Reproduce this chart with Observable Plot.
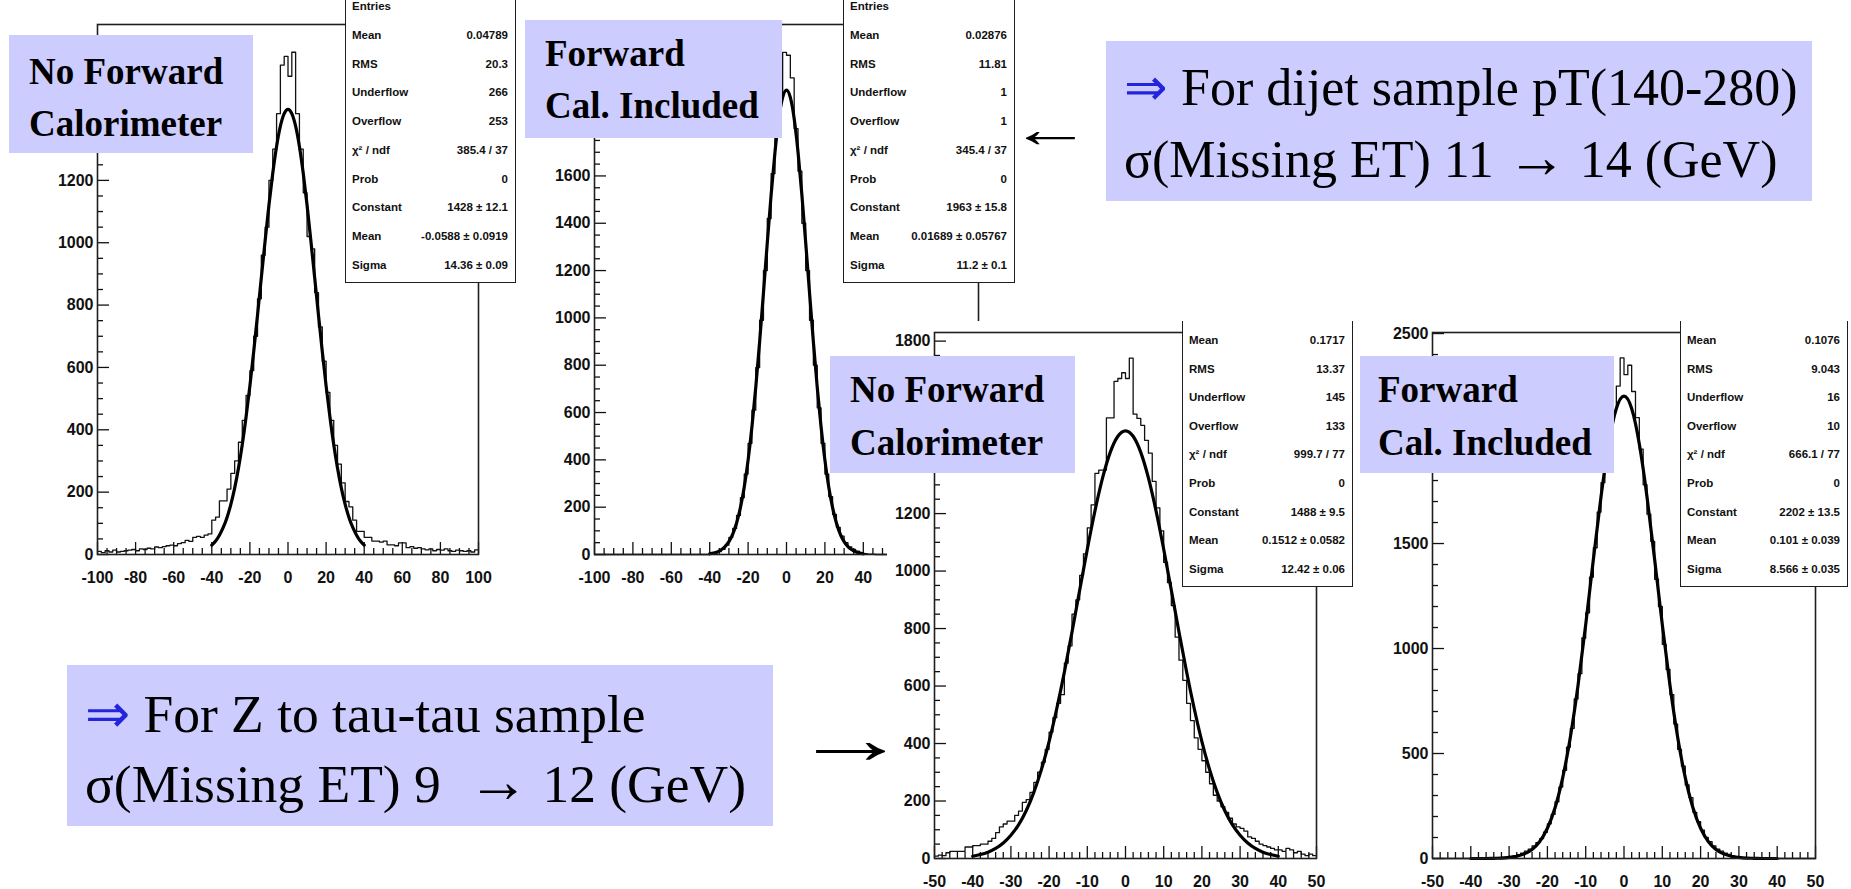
<!DOCTYPE html>
<html>
<head>
<meta charset="utf-8">
<script src="https://cdn.jsdelivr.net/npm/d3@7"></script>
<script src="https://cdn.jsdelivr.net/npm/@observablehq/plot@0.6"></script>
<style>
  html, body { margin:0; padding:0; background:#fff; }
  #page { position:relative; width:1851px; height:889px; overflow:hidden; background:#fff; }
  .panel { position:absolute; }
  .stats { position:absolute; background:#fff; border:1.5px solid #1e1e1e; box-sizing:border-box;
           font-family:"Liberation Sans", Arial, sans-serif; font-weight:bold; font-size:11.5px; color:#111; }
  .stats .row { position:absolute; left:6px; right:7px; height:14px; line-height:14px;
                display:flex; justify-content:space-between; white-space:nowrap; }
  .note { position:absolute; background:#ccccff; font-family:"Liberation Serif","Times New Roman",serif;
          font-weight:bold; font-size:37px; color:#000; }
  .note div, .big div { position:absolute; white-space:pre; }
  .note div { line-height:37px; }
  .big { position:absolute; background:#ccccff; font-family:"Liberation Serif","Times New Roman",serif;
         font-size:52px; color:#000; }
  .big div { line-height:52px; }
  .imp { color:#2424dc; }
  .sym { font-size:1.15em; line-height:0; }
  .arrow { position:absolute; font-family:"Liberation Serif","Times New Roman",serif; color:#000;
           line-height:1; white-space:pre; letter-spacing:-0.3em; }
</style>
</head>
<body>
<div id="page"></div>
<script>
// ---------------- data ----------------
// Histogram bin contents (100 bins each)
const p1Counts = [
  10,6,12,8,14,8,10,12,14,16,
  12,18,16,20,18,24,22,25,28,30,
  28,35,38,45,42,55,58,55,62,66,
  110,120,172,172,210,260,300,360,430,510,
  590,700,820,960,1050,1200,1300,1414,1570,1598,
  1534,1611,1414,1300,1160,1020,980,840,730,620,
  520,430,350,290,230,170,153,110,74,74,
  55,55,43,43,40,43,31,31,28,37,
  37,22,25,20,22,18,15,18,12,16,
  14,18,12,10,14,12,10,12,8,15
];
const p2Counts = [
  0,0,0,0,0,0,0,0,0,0,
  0,0,0,0,0,0,0,0,0,0,
  0,0,0,0,0,0,0,0,0,0,
  3,6,12,22,40,72,110,165,240,340,
  470,610,790,990,1200,1420,1610,1790,1940,2122,
  2110,2014,1800,1620,1400,1200,990,800,620,470,
  340,245,170,115,78,50,32,22,14,8,
  4,2,1,0,0,0,0,0,0,0,
  0,0,0,0,0,0,0,0,0,0,
  0,0,0,0,0,0,0,0,0,0
];
const p3Counts = [
  8,12,10,20,25,25,25,25,40,40,
  45,45,50,50,60,70,90,110,120,130,
  130,150,165,195,205,230,265,300,335,380,
  440,490,540,570,680,740,850,900,985,1060,
  1150,1230,1340,1351,1351,1533,1533,1660,1670,1690,
  1670,1741,1546,1531,1507,1455,1410,1312,1220,1140,
  1030,960,880,770,690,620,540,480,420,380,
  340,300,260,220,200,180,160,140,120,110,
  105,95,75,70,60,50,45,40,35,30,
  30,25,35,30,20,25,15,10,15,10
];
const p4Counts = [
  0,0,0,0,0,0,0,0,0,0,
  1,0,2,1,2,3,2,4,5,6,
  10,14,18,25,35,45,60,75,95,125,
  165,210,270,340,420,530,620,760,880,1050,
  1170,1340,1480,1650,1790,1900,2030,2130,2250,2384,
  2304,2349,2224,2100,1950,1780,1640,1510,1330,1200,
  1020,900,780,640,520,440,350,290,220,175,
  135,100,80,60,45,35,25,20,12,8,
  5,3,2,2,1,1,0,1,0,0,
  0,0,0,0,0,0,0,0,0,0
];

const fitX = [-40,-38,-36,-34,-32,-30,-28,-26,-24,-22,-20,-18,-16,-14,-12,-10,-8,-6,-4,-2,0,
              2,4,6,8,10,12,14,16,18,20,22,24,26,28,30,32,34,36,38,40];
const p1Fit = [30,43,62,87,119,161,213,277,353,442,541,651,768,888,1007,1121,1223,1309,1374,1414,1428,
               1414,1374,1309,1223,1121,1007,888,768,651,541,442,353,277,213,161,119,87,62,43,30];
const p2Fit = [3,6,11,20,33,54,86,133,198,285,399,540,707,899,1106,1318,1521,1701,1842,1932,1963,
               1932,1842,1701,1521,1318,1106,899,707,540,399,285,198,133,86,54,33,20,11,6,3];
const p3Fit = [8,14,22,35,54,81,117,166,230,310,407,521,649,788,933,1076,1209,1324,1413,1469,1488,
               1469,1413,1324,1209,1076,933,788,649,521,407,310,230,166,117,81,54,35,22,14,8];
const p4Fit = [0,0,0,1,2,5,11,22,43,81,144,242,385,579,825,1114,1424,1723,1974,2143,2202,
               2143,1974,1723,1424,1114,825,579,385,242,144,81,43,22,11,5,2,1,0,0,0];

// Major tick values
const wideXTicks = [-100,-80,-60,-40,-20,0,20,40,60,80,100];
const narrowXTicks = [-50,-40,-30,-20,-10,0,10,20,30,40,50];
const p1YTicks = [0,200,400,600,800,1000,1200,1400,1600];
const p2YTicks = [0,200,400,600,800,1000,1200,1400,1600,1800,2000,2200];
const p3YTicks = [0,200,400,600,800,1000,1200,1400,1600,1800];
const p4YTicks = [0,500,1000,1500,2000,2500];
// Tick labels that are visible (the others are covered by the label boxes / next picture)
const p1XLabels = [-100,-80,-60,-40,-20,0,20,40,60,80,100];
const p2XLabels = [-100,-80,-60,-40,-20,0,20,40];
const p1YLabels = [0,200,400,600,800,1000,1200];
const p2YLabels = [0,200,400,600,800,1000,1200,1400,1600];
const p3YLabels = [0,200,400,600,800,1000,1200,1800];
const p4YLabels = [0,500,1000,1500,2500];

// Statistics boxes
const p1Stats = [["Entries",""],["Mean","0.04789"],["RMS","20.3"],["Underflow","266"],["Overflow","253"],
  ["χ\u00b2 / ndf","385.4 / 37"],["Prob","0"],["Constant","1428 \u00b1 12.1"],["Mean","-0.0588 \u00b1 0.0919"],["Sigma","14.36 \u00b1 0.09"]];
const p2Stats = [["Entries",""],["Mean","0.02876"],["RMS","11.81"],["Underflow","1"],["Overflow","1"],
  ["χ\u00b2 / ndf","345.4 / 37"],["Prob","0"],["Constant","1963 \u00b1 15.8"],["Mean","0.01689 \u00b1 0.05767"],["Sigma","11.2 \u00b1 0.1"]];
const p3Stats = [["Mean","0.1717"],["RMS","13.37"],["Underflow","145"],["Overflow","133"],
  ["χ\u00b2 / ndf","999.7 / 77"],["Prob","0"],["Constant","1488 \u00b1 9.5"],["Mean","0.1512 \u00b1 0.0582"],["Sigma","12.42 \u00b1 0.06"]];
const p4Stats = [["Mean","0.1076"],["RMS","9.043"],["Underflow","16"],["Overflow","10"],
  ["χ\u00b2 / ndf","666.1 / 77"],["Prob","0"],["Constant","2202 \u00b1 13.5"],["Mean","0.101 \u00b1 0.039"],["Sigma","8.566 \u00b1 0.035"]];

// Annotation texts
const noteNoFwd = ["No Forward", "Calorimeter"];
const noteFwd = ["Forward", "Cal. Included"];
const dijetText = ["For dijet sample pT(140-280)", "σ(Missing ET) 11 \u2192 14 (GeV)"];
const ztautauText = ["For Z to tau-tau sample", "σ(Missing ET) 9  \u2192 12 (GeV)"];

// ---------------- layout ----------------
const page = document.getElementById("page");

const panels = [
  {counts: p1Counts, start: -100, bin: 2, fit: p1Fit, xDomain: [-100,100], yDomain: [0,1700],
   xTicks: wideXTicks, xLabels: p1XLabels, xMinor: 5, yTicks: p1YTicks, yLabels: p1YLabels, yMinor: 50,
   frame: {l:97, t:24, r:478, b:554}, m: {l:60, t:10, r:10, b:40}},
  {counts: p2Counts, start: -100, bin: 2, fit: p2Fit, xDomain: [-100,100], yDomain: [0,2240],
   xTicks: wideXTicks, xLabels: p2XLabels, xMinor: 5, yTicks: p2YTicks, yLabels: p2YLabels, yMinor: 50,
   frame: {l:594, t:24, r:978, b:554}, m: {l:60, t:10, r:10, b:40}},
  {counts: p3Counts, start: -50, bin: 1, fit: p3Fit, xDomain: [-50,50], yDomain: [0,1830],
   xTicks: narrowXTicks, xLabels: narrowXTicks, xMinor: 2, yTicks: p3YTicks, yLabels: p3YLabels, yMinor: 50,
   frame: {l:934, t:332, r:1316, b:858}, m: {l:47, t:11, r:10, b:31}},
  {counts: p4Counts, start: -50, bin: 1, fit: p4Fit, xDomain: [-50,50], yDomain: [0,2505],
   xTicks: narrowXTicks, xLabels: narrowXTicks, xMinor: 2, yTicks: p4YTicks, yLabels: p4YLabels, yMinor: 100,
   frame: {l:1432, t:332, r:1815, b:858}, m: {l:50, t:11, r:20, b:31}}
];
const statsBoxes = [
  {rows: p1Stats, left: 345, right: 516, top: -10, bottom: 283, first: 6.8, step: 28.7, noTop: false},
  {rows: p2Stats, left: 843, right: 1015, top: -10, bottom: 283, first: 6.8, step: 28.7, noTop: false},
  {rows: p3Stats, left: 1182, right: 1353, top: 321, bottom: 587, first: 340, step: 28.6, noTop: true},
  {rows: p4Stats, left: 1680, right: 1848, top: 321, bottom: 587, first: 340, step: 28.6, noTop: true}
];

function makePanel(p) {
  const fw = p.frame.r - p.frame.l, fh = p.frame.b - p.frame.t;
  const ux = (p.xDomain[1] - p.xDomain[0]) / fw;
  const uy = (p.yDomain[1] - p.yDomain[0]) / fh;
  const histPts = p.counts.map((c, i) => ({x: p.start + i * p.bin, y: c}));
  histPts.push({x: p.start + p.counts.length * p.bin, y: p.counts[p.counts.length - 1]});
  const fitPts = fitX.map((x, i) => ({x, y: p.fit[i]}));
  const xMinorTicks = d3.range(p.xDomain[0], p.xDomain[1] + 1e-9, p.xMinor).filter(v => !p.xTicks.includes(v));
  const yMinorTicks = d3.range(p.yDomain[0], p.yDomain[1], p.yMinor).filter(v => !p.yTicks.includes(v));
  const x0 = p.xDomain[0], y0 = p.yDomain[0];
  const svg = Plot.plot({
    width: p.m.l + fw + p.m.r,
    height: p.m.t + fh + p.m.b,
    marginLeft: p.m.l, marginRight: p.m.r, marginTop: p.m.t, marginBottom: p.m.b,
    x: {domain: p.xDomain, label: null},
    y: {domain: p.yDomain, label: null},
    style: {fontFamily: "'Liberation Sans', Arial, sans-serif", fontSize: "16px", fontWeight: "bold",
            background: "#fff", maxWidth: "none", overflow: "visible", color: "#111"},
    marks: [
      Plot.axisX({ticks: p.xLabels, tickSize: 0, tickPadding: 17, tickFormat: d => String(d), label: null, fontSize: 16}),
      Plot.axisY({ticks: p.yLabels, tickSize: 0, tickPadding: 4, tickFormat: d => String(d), label: null, fontSize: 16}),
      Plot.ruleX(p.xTicks, {x: d => d, y1: () => y0, y2: () => y0 + 12 * uy, stroke: "#111", strokeWidth: 1.3}),
      Plot.ruleX(xMinorTicks, {x: d => d, y1: () => y0, y2: () => y0 + 6 * uy, stroke: "#111", strokeWidth: 1.3}),
      Plot.ruleY(p.yTicks, {y: d => d, x1: () => x0, x2: () => x0 + 12 * ux, stroke: "#111", strokeWidth: 1.3}),
      Plot.ruleY(yMinorTicks, {y: d => d, x1: () => x0, x2: () => x0 + 6 * ux, stroke: "#111", strokeWidth: 1.3}),
      Plot.line(histPts, {x: "x", y: "y", curve: "step-after", stroke: "#111", strokeWidth: 1.3}),
      Plot.line(fitPts, {x: "x", y: "y", curve: "natural", stroke: "#000", strokeWidth: 3.2}),
      Plot.frame({stroke: "#1e1e1e", strokeWidth: 1.6})
    ]
  });
  const wrap = document.createElement("div");
  wrap.className = "panel";
  wrap.style.left = (p.frame.l - p.m.l) + "px";
  wrap.style.top = (p.frame.t - p.m.t) + "px";
  wrap.appendChild(svg);
  page.appendChild(wrap);
}

function makeStats(s) {
  const box = document.createElement("div");
  box.className = "stats";
  Object.assign(box.style, {left: s.left + "px", top: s.top + "px",
    width: (s.right - s.left) + "px", height: (s.bottom - s.top) + "px"});
  if (s.noTop) box.style.borderTop = "none";
  s.rows.forEach(([label, value], i) => {
    const row = document.createElement("div");
    row.className = "row";
    row.style.top = (s.first + i * s.step - 7 - s.top - (s.noTop ? 0 : 1.5)) + "px";
    const a = document.createElement("span"); a.textContent = label;
    const b = document.createElement("span"); b.textContent = value;
    row.appendChild(a); row.appendChild(b);
    box.appendChild(row);
  });
  page.appendChild(box);
}

function makeNote(lines, left, top, width, height, padLeft, lineTops) {
  const box = document.createElement("div");
  box.className = "note";
  Object.assign(box.style, {left: left + "px", top: top + "px", width: width + "px", height: height + "px"});
  lines.forEach((t, i) => {
    const d = document.createElement("div");
    d.textContent = t;
    d.style.left = padLeft + "px";
    d.style.top = lineTops[i] + "px";
    box.appendChild(d);
  });
  page.appendChild(box);
}

function appendWithArrows(el, text) {
  const parts = text.split("\u2192");
  parts.forEach((part, k) => {
    if (k > 0) {
      const s = document.createElement("span");
      s.className = "sym";
      s.textContent = "\u2192";
      el.appendChild(s);
    }
    el.appendChild(document.createTextNode(part));
  });
}

function makeBig(lines, left, top, width, height, padLeft, lineTops, fontSize) {
  const box = document.createElement("div");
  box.className = "big";
  Object.assign(box.style, {left: left + "px", top: top + "px", width: width + "px", height: height + "px",
    fontSize: fontSize + "px"});
  lines.forEach((t, i) => {
    const d = document.createElement("div");
    d.style.left = padLeft + "px";
    d.style.top = lineTops[i] + "px";
    if (i === 0) {
      const s = document.createElement("span");
      s.className = "imp";
      s.textContent = "\u21d2";
      d.appendChild(s);
      d.appendChild(document.createTextNode(" " + t));
    } else {
      appendWithArrows(d, t);
    }
    box.appendChild(d);
  });
  page.appendChild(box);
}

function makeArrow(ch, left, top, size, sx, oy) {
  const d = document.createElement("div");
  d.className = "arrow";
  d.textContent = ch;
  Object.assign(d.style, {left: left + "px", top: top + "px", fontSize: size + "px",
    transform: `scale(${sx}, 1.15)`, transformOrigin: `0 ${oy}px`});
  page.appendChild(d);
}

// draw order: earlier pictures underneath later ones
makePanel(panels[0]); makeStats(statsBoxes[0]);
makePanel(panels[1]); makeStats(statsBoxes[1]);
makePanel(panels[2]); makeStats(statsBoxes[2]);
makePanel(panels[3]); makeStats(statsBoxes[3]);

makeNote(noteNoFwd, 9, 35, 244, 118, 20, [18, 70]);
makeNote(noteFwd, 525, 20, 257, 118, 20, [15, 67]);
makeNote(noteNoFwd, 830, 356, 245, 117, 20, [15, 68]);
makeNote(noteFwd, 1360, 356, 254, 117, 18, [15, 68]);

makeBig(dijetText, 1106, 41, 706, 160, 18, [21, 93], 52);
makeBig(ztautauText, 67, 665, 706, 161, 18, [23, 93], 53.5);

makeArrow("\u2190", 1009, 108, 46, 1.8, 30);
makeArrow("\u2192", 792, 709, 62, 1.88, 36);
</script>
</body>
</html>
